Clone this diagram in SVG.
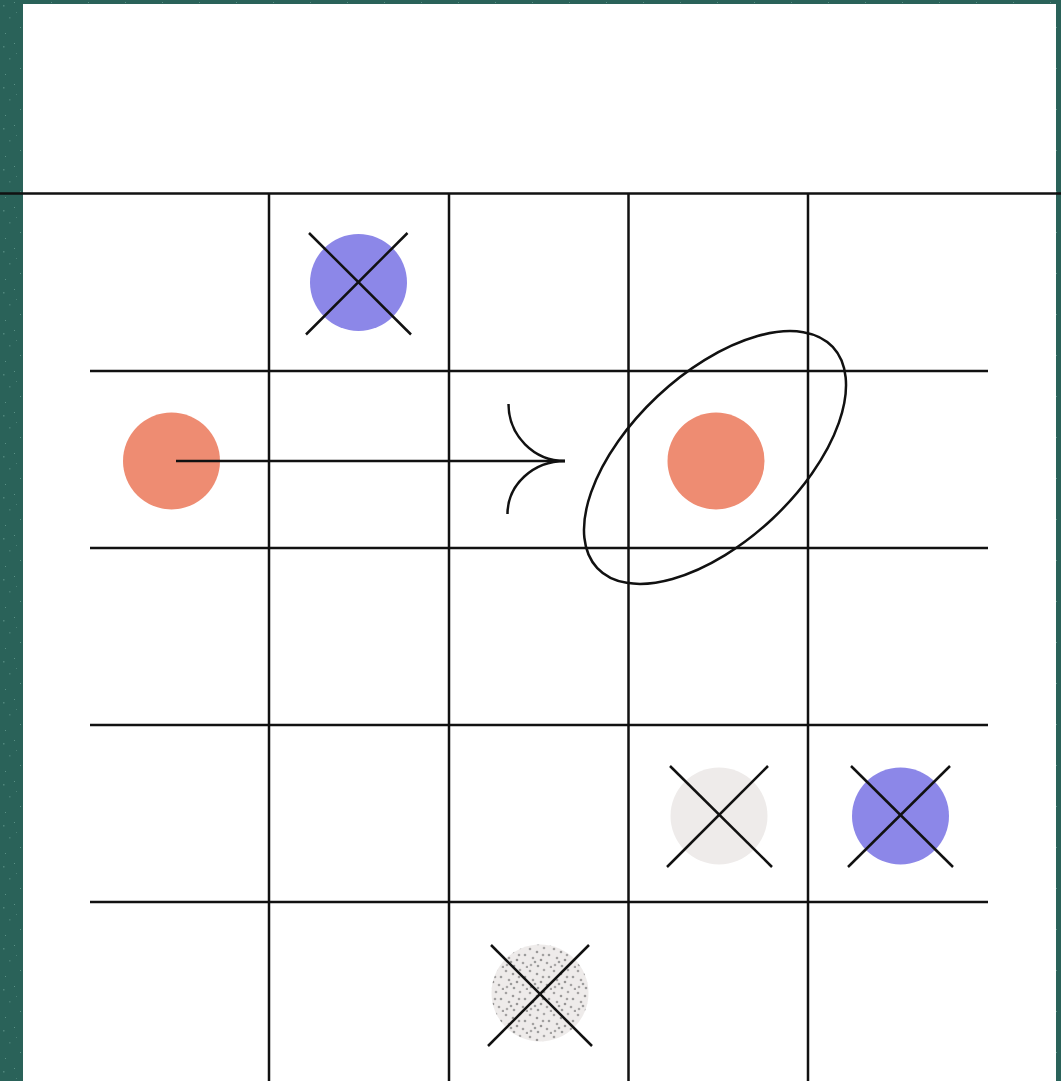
<svg xmlns="http://www.w3.org/2000/svg" width="1061" height="1081" viewBox="0 0 1061 1081">
  <style>
    .ln { stroke: #111111; stroke-width: 2.5; fill: none; }
    .blue { fill: #8c87e8; }
    .orange { fill: #ee8c72; }
    .grey { fill: #eeebea; }
  </style>
  <defs>
    <pattern id="speck" x="0" y="0" width="37" height="41" patternUnits="userSpaceOnUse">
      <rect width="37" height="41" fill="#2a6259"/>
      <rect x="3" y="5" width="1.5" height="1.5" fill="#4f857b"/>
      <rect x="14" y="2" width="1" height="1" fill="#5a9085"/>
      <rect x="9" y="17" width="1.5" height="1.5" fill="#467c72"/>
      <rect x="20" y="27" width="1" height="1" fill="#5a9085"/>
      <rect x="30" y="12" width="1.5" height="1.5" fill="#4a8076"/>
      <rect x="5" y="33" width="1" height="1" fill="#5a9085"/>
      <rect x="26" y="37" width="1.5" height="1.5" fill="#467c72"/>
      <rect x="33" y="23" width="1" height="1" fill="#5a9085"/>
      <rect x="16" y="12" width="1" height="1" fill="#4a8076"/>
    </pattern>
    <pattern id="dots" x="0" y="0" width="24" height="22" patternUnits="userSpaceOnUse">
      <rect width="24" height="22" fill="#eeebea"/>
      <circle cx="2" cy="3" r="1.3" fill="#a3a1a1"/>
      <circle cx="9" cy="6" r="1.3" fill="#9a9898"/>
      <circle cx="16" cy="2" r="1.3" fill="#aaa8a8"/>
      <circle cx="21" cy="9" r="1.3" fill="#9c9c9c"/>
      <circle cx="5" cy="12" r="1.3" fill="#a3a1a1"/>
      <circle cx="13" cy="14" r="1.3" fill="#969494"/>
      <circle cx="19" cy="17" r="1.3" fill="#a3a1a1"/>
      <circle cx="3" cy="19" r="1.3" fill="#aaa8a8"/>
      <circle cx="10" cy="20" r="1.3" fill="#9c9c9c"/>
      <circle cx="23" cy="21" r="1.3" fill="#a3a1a1"/>
      <circle cx="15" cy="9" r="1.3" fill="#a3a1a1"/>
      <circle cx="7" cy="16" r="1.3" fill="#9c9c9c"/>
    </pattern>
  </defs>

  <rect id="background" x="0" y="0" width="1061" height="1081" fill="url(#speck)"/>
  <rect id="panel" x="23" y="4" width="1033" height="1077" fill="#ffffff"/>

  <g id="grid">
    <line class="ln" x1="0" y1="193.5" x2="1061" y2="193.5"/>
    <line class="ln" x1="269" y1="193" x2="269" y2="1081"/>
    <line class="ln" x1="449" y1="193" x2="449" y2="1081"/>
    <line class="ln" x1="628.5" y1="193" x2="628.5" y2="1081"/>
    <line class="ln" x1="808" y1="193" x2="808" y2="1081"/>
    <line class="ln" x1="90" y1="371" x2="988" y2="371"/>
    <line class="ln" x1="90" y1="548" x2="988" y2="548"/>
    <line class="ln" x1="90" y1="725" x2="988" y2="725"/>
    <line class="ln" x1="90" y1="902" x2="988" y2="902"/>
  </g>

  <g id="node-blue-top">
    <circle class="blue" cx="358.5" cy="282.5" r="48.5"/>
    <line class="ln" x1="309" y1="233" x2="411" y2="334.5"/>
    <line class="ln" x1="407.5" y1="233" x2="306" y2="334.5"/>
  </g>

  <g id="node-orange-left">
    <circle class="orange" cx="171.5" cy="461" r="48.5"/>
  </g>

  <g id="node-orange-right">
    <circle class="orange" cx="716" cy="461" r="48.5"/>
  </g>

  <g id="selection-ellipse">
    <ellipse class="ln" cx="715" cy="457.5" rx="161.5" ry="84" transform="rotate(-43.2 715 457.5)"/>
  </g>

  <g id="node-grey">
    <circle class="grey" cx="719" cy="816" r="48.5"/>
    <line class="ln" x1="670" y1="766" x2="772" y2="867"/>
    <line class="ln" x1="768" y1="766" x2="667" y2="867"/>
  </g>

  <g id="node-blue-right">
    <circle class="blue" cx="900.5" cy="816" r="48.5"/>
    <line class="ln" x1="851" y1="766" x2="953" y2="867"/>
    <line class="ln" x1="950" y1="766" x2="848" y2="867"/>
  </g>

  <g id="node-textured">
    <circle cx="540" cy="993" r="48.5" fill="url(#dots)"/>
    <line class="ln" x1="491" y1="945" x2="592" y2="1046"/>
    <line class="ln" x1="589" y1="945" x2="488" y2="1046"/>
  </g>

  <g id="connectors">
    <line class="ln" x1="176" y1="461" x2="565" y2="461"/>
    <path class="ln" d="M508.5,404 A56.5,57 0 0 0 565,461"/>
    <path class="ln" d="M507.5,514 A57.5,53 0 0 1 565,461"/>
  </g>
</svg>
